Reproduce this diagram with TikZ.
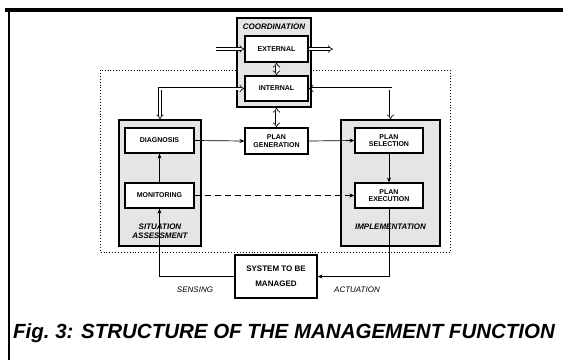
\documentclass[tikz,border=0pt]{standalone}
\usepackage{fontspec}
\setmainfont{Liberation Sans}
\usetikzlibrary{arrows.meta}
\begin{document}
\begin{tikzpicture}[x=1pt,y=1pt,
  shadebox/.style={draw, line width=1.1pt, fill=black!10, inner sep=0pt},
  boxx/.style={draw, line width=1.1pt, fill=white, inner sep=0pt, align=center,
    font=\fontsize{7}{7.5}\selectfont\bfseries},
  grp/.style={font=\fontsize{8}{8.5}\selectfont\bfseries\itshape, align=center},
  dbl/.style={double, double distance=2pt, line width=0.6pt, {Implies}-{Implies}},
  dblone/.style={double, double distance=2pt, line width=0.6pt, -{Implies}},
  arr/.style={line width=0.7pt, -{Stealth[length=5pt,width=4pt]}},
  thinline/.style={line width=0.6pt, -{Stealth[length=5pt,width=4pt]}},
  lbl/.style={font=\fontsize{8}{9}\selectfont\itshape}
]
\useasboundingbox (0,0) rectangle (563,-360);
% frame lines
\draw[line width=4pt] (5,-10) -- (563,-10);
\draw[line width=1.2pt] (9,-10) -- (9,-360);
% big dotted rectangle
\draw[dotted, line width=0.9pt] (100,-70) rectangle (450,-252);
% group boxes
\node[shadebox, minimum width=74pt, minimum height=89pt] (coord) at (274,-62.5) {};
\node[shadebox, minimum width=82pt, minimum height=126pt] (sit) at (160,-183) {};
\node[shadebox, minimum width=99pt, minimum height=126pt] (impl) at (390.5,-183) {};
% group labels
\node[grp] (coordlbl) at (274,-27) {COORDINATION};
\node[grp] (sitlbl) at (160,-231) {SITUATION\\ASSESSMENT};
\node[grp] (impllbl) at (390.5,-226.5) {IMPLEMENTATION};
% boxes
\node[boxx, minimum width=63pt, minimum height=26pt] (ext) at (276.5,-49) {EXTERNAL};
\node[boxx, minimum width=63pt, minimum height=25pt] (int) at (276.5,-88.5) {INTERNAL};
\node[boxx, minimum width=69pt, minimum height=25pt] (diag) at (159.5,-140.5) {DIAGNOSIS};
\node[boxx, minimum width=69pt, minimum height=25pt] (mon) at (159.5,-195.5) {MONITORING};
\node[boxx, minimum width=63pt, minimum height=26pt] (pgen) at (276.5,-141) {PLAN\\GENERATION};
\node[boxx, minimum width=68pt, minimum height=25pt] (psel) at (389,-140.5) {PLAN\\SELECTION};
\node[boxx, minimum width=68pt, minimum height=25pt] (pexe) at (389,-195.5) {PLAN\\EXECUTION};
\node[boxx, minimum width=82pt, minimum height=43pt, font=\fontsize{8}{15}\selectfont\bfseries] (sys) at (276,-276.5) {SYSTEM TO BE\\MANAGED};
% free ends
\coordinate (extin) at (216,-49);
\coordinate (extout) at (333,-49);
% double arrows
\draw[dblone] (extin) -- (ext.west);
\draw[dblone] (ext.east) -- (extout);
\draw[dbl] (ext.south) -- (int.north);
\draw[dbl] (int.west) -| (sit.north);
\draw[dbl] (int.east) -| (impl.north);
\draw[dbl] (coord.south -| pgen.north) -- (pgen.north);
% single arrows
\draw[arr] (diag.east) -- (pgen.west);
\draw[arr] (pgen.east) -- (psel.west);
\draw[arr] (mon.north) -- (diag.south);
\draw[arr] (psel.south) -- (pexe.north);
\draw[arr, dashed, dash pattern=on 6pt off 4pt] (mon.east) -- (pexe.west);
\draw[thinline] (sys.west) -| (mon.south);
\draw[thinline] (pexe.south) |- (sys.east);
% labels
\node[lbl] (sensing) at (195,-290) {SENSING};
\node[lbl] (actuation) at (357,-290) {ACTUATION};
% caption
\node[anchor=west, inner sep=0pt, font=\fontsize{20.5}{22}\selectfont\bfseries\itshape] (caption) at (13,-333) {Fig.~3: STRUCTURE OF THE MANAGEMENT FUNCTION};
\end{tikzpicture}
\end{document}
